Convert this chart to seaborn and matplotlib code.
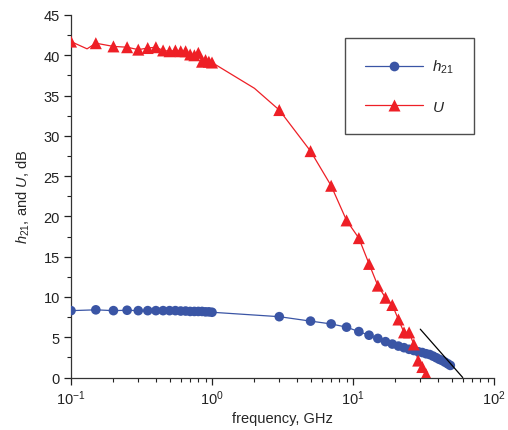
import numpy as np
import pandas as pd
import seaborn as sns
import matplotlib
matplotlib.use("Agg")
import matplotlib.pyplot as plt
from matplotlib.lines import Line2D
from matplotlib.ticker import LogLocator, MultipleLocator, NullFormatter

# ---- data ----
f_low = [0.1, 0.15, 0.2, 0.25, 0.3, 0.35, 0.4, 0.45, 0.5, 0.55, 0.6, 0.65,
         0.7, 0.75, 0.8, 0.85, 0.9, 0.95, 1.0]
u_low = [41.7, 41.5, 41.1, 41.0, 40.7, 40.9, 41.0, 40.6, 40.5, 40.6, 40.5,
         40.5, 40.1, 40.0, 40.3, 39.2, 39.4, 39.2, 39.1]
h_low = [8.3, 8.4, 8.3, 8.35, 8.3, 8.3, 8.3, 8.3, 8.3, 8.3, 8.25, 8.25,
         8.2, 8.2, 8.2, 8.2, 8.15, 8.15, 8.1]

f_u_high = [3, 5, 7, 9, 11, 13, 15, 17, 19, 21, 23, 25, 27, 29, 31, 33]
u_high = [33.2, 28.1, 23.8, 19.5, 17.3, 14.1, 11.4, 9.9, 9.0, 7.2, 5.6, 5.6,
          4.1, 2.1, 1.3, 0.4]

f_h_high = [3, 5, 7, 9, 11, 13, 15, 17, 19, 21, 23, 25, 27, 29, 31, 33, 35,
            37, 39, 41, 43, 45, 47, 49]
h_high = [7.55, 7.0, 6.65, 6.25, 5.7, 5.25, 4.85, 4.45, 4.15, 3.9, 3.7, 3.5,
          3.35, 3.2, 3.1, 2.95, 2.85, 2.65, 2.45, 2.25, 2.1, 1.9, 1.7, 1.5]

# unmarked vertices of the U trace line
f_u_extra = [0.13, 2.0]
u_extra = [40.8, 35.9]

# -20 dB/decade extrapolation line
f_fit = [30, 60]
v_fit = [6.0, 0.0]

x_ticks = [0.1, 1, 10, 100]
x_ticklabels = ["$10^{-1}$", "$10^{0}$", "$10^{1}$", "$10^{2}$"]
y_ticks = [0, 5, 10, 15, 20, 25, 30, 35, 40, 45]

# ---- build tables ----
h_df = pd.DataFrame({"f": f_low + f_h_high, "v": h_low + h_high})
u_df = pd.DataFrame({"f": f_low + f_u_high, "v": u_low + u_high})
u_line_df = pd.concat([u_df, pd.DataFrame({"f": f_u_extra, "v": u_extra})]).sort_values("f")
fit_df = pd.DataFrame({"f": f_fit, "v": v_fit})

sns.set_style("ticks")
plt.rcParams["font.family"] = ["Liberation Sans", "DejaVu Sans"]
plt.rcParams["mathtext.fontset"] = "custom"
plt.rcParams["mathtext.rm"] = "Liberation Sans"
plt.rcParams["mathtext.it"] = "Liberation Sans:italic"

blue = "#3a55a5"
red = "#ee1f26"

fig = plt.figure(figsize=(5.08, 4.31), dpi=100)
ax = fig.add_axes([71 / 508, 1 - 378.5 / 431, (494 - 71) / 508, (378.5 - 16) / 431])

sns.lineplot(data=h_df, x="f", y="v", ax=ax, color=blue, lw=0.9, sort=True,
             estimator=None)
sns.scatterplot(data=h_df, x="f", y="v", ax=ax, color=blue, marker="o", s=48,
                edgecolor="none", zorder=3)
sns.lineplot(data=u_line_df, x="f", y="v", ax=ax, color=red, lw=0.9, sort=True,
             estimator=None)
sns.scatterplot(data=u_df, x="f", y="v", ax=ax, color=red, marker="^", s=75,
                edgecolor="none", zorder=4)
sns.lineplot(data=fit_df, x="f", y="v", ax=ax, color="black", lw=0.9,
             estimator=None, zorder=5)

ax.set_xscale("log")
ax.set_xlim(0.1, 100)
ax.set_ylim(0, 45)
ax.set_xticks(x_ticks)
ax.set_xticklabels(x_ticklabels)
ax.xaxis.set_minor_locator(LogLocator(base=10, subs=np.arange(2, 10), numticks=20))
ax.xaxis.set_minor_formatter(NullFormatter())
ax.set_yticks(y_ticks)
ax.yaxis.set_minor_locator(MultipleLocator(2.5))

ax.tick_params(axis="both", which="major", direction="out", length=5,
               width=0.9, labelsize=10.5, colors="#222222", pad=3)
ax.tick_params(axis="both", which="minor", direction="out", length=3, width=0.8,
               colors="#222222")
for s in ["left", "bottom"]:
    ax.spines[s].set_linewidth(0.9)
    ax.spines[s].set_color("#333333")
sns.despine(ax=ax)

ax.set_xlabel("frequency, GHz", fontsize=10.5, labelpad=3)
ax.set_ylabel("$h_{21}$, and $U$, dB", fontsize=10.5, labelpad=8)

handles = [
    Line2D([0], [0], color=blue, lw=0.9, marker="o", markersize=7,
           markeredgecolor="none"),
    Line2D([0], [0], color=red, lw=0.9, marker="^", markersize=8.5,
           markeredgecolor="none"),
]
leg = ax.legend(handles, ["$h_{21}$", "$U$"], loc="upper left",
                bbox_to_anchor=((345 - 71) / 423, 1 - (39 - 16) / 362.5),
                frameon=True, fancybox=False, edgecolor="#222222",
                fontsize=11, handlelength=3.8, borderpad=1.3,
                labelspacing=1.6, handletextpad=0.6, borderaxespad=0)
leg.get_frame().set_linewidth(1.0)

fig.savefig("out.png", dpi=100)
